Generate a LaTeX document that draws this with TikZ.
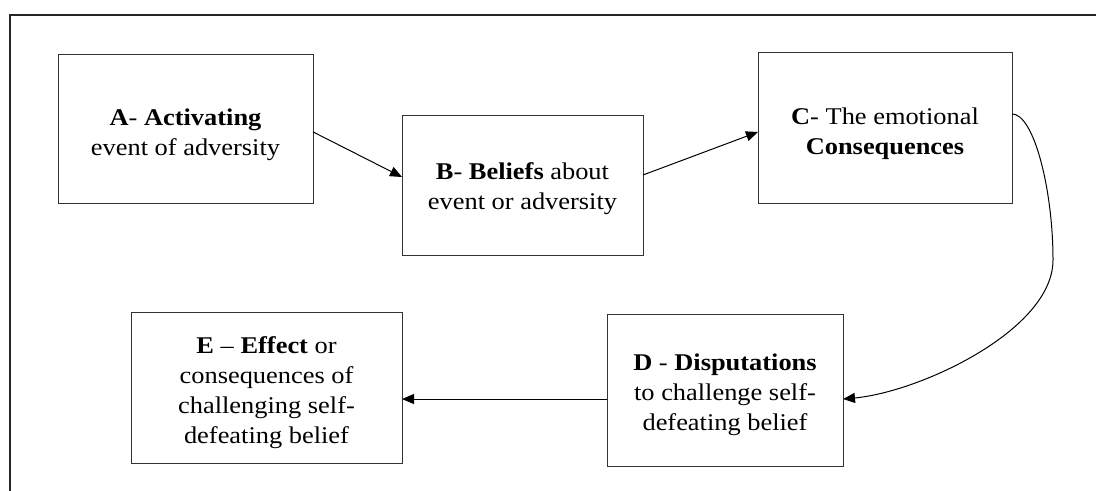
\documentclass[tikz,border=0pt]{standalone}
\usepackage{fontspec}
\setmainfont{Liberation Serif}[FakeStretch=1.1]
\usetikzlibrary{calc,positioning,arrows.meta}
\tikzset{
    abc box/.style={
        rectangle,
        draw=black!80,
        line width=0.75pt,
        inner sep=0pt,
        outer sep=0pt,
    },
    abc text/.style={
        align=center,
        font=\fontsize{18}{22.5}\selectfont,
        inner sep=0pt,
    },
    connector/.style={
        -{Triangle[length=9pt,width=7.5pt]},
        line width=0.75pt,
    },
    frame/.style={
        line width=2pt,
        draw=black!85,
    },
}
\begin{document}
\begin{tikzpicture}[x=0.75pt,y=-0.75pt]
        \useasboundingbox (0,0) rectangle (1096,491);
        \draw[frame] (10,491) -- (10,15) -- (1096,15);

        \node[abc box,minimum width=191.25pt,minimum height=111.75pt](A) at (185.5,129.5){};
        \node[abc box,minimum width=180.75pt,minimum height=105pt](B) at (522.5,186){};
        \node[abc box,minimum width=190.5pt,minimum height=113.25pt](C) at (885,128.5){};
        \node[abc box,minimum width=177pt,minimum height=113.25pt](D) at (725,390.5){};
        \node[abc box,minimum width=203.25pt,minimum height=112.5pt](E) at (266.5,388){};

        \node[abc text](At) at ($(A.center)+(0,5)$)
            {\textbf{A}- \textbf{Activating}\\event of adversity};
        \node[abc text](Bt) at ($(B.center)+(0,3)$)
            {\textbf{B}- \textbf{Beliefs} about\\event or adversity};
        \node[abc text](Ct) at ($(C.center)+(0,5)$)
            {\textbf{C}- The emotional\\\textbf{Consequences}};
        \node[abc text](Dt) at ($(D.center)+(0,4)$)
            {\textbf{D} - \textbf{Disputations}\\to challenge self-\\defeating belief};
        \node[abc text](Et) at ($(E.center)+(0,5)$)
            {\textbf{E} -- \textbf{Effect} or\\consequences of\\challenging self-\\defeating belief};

        \draw[connector] ([yshift=-1.8pt]A.east) -- ([yshift=6.75pt]B.west);
        \draw[connector] ([yshift=8.25pt]B.east) -- ([yshift=-2.6pt]C.west);
        \draw[connector] ([yshift=10.9pt]C.east) .. controls +(22,0) and (1053,190) .. (1053,260)
            .. controls (1053,330) and (920,392) .. ([yshift=-6.4pt]D.east);
        \draw[connector] ([yshift=-6.4pt]D.west) -- ([yshift=-6.4pt]D.west -| E.east);
    \end{tikzpicture}
\end{document}
